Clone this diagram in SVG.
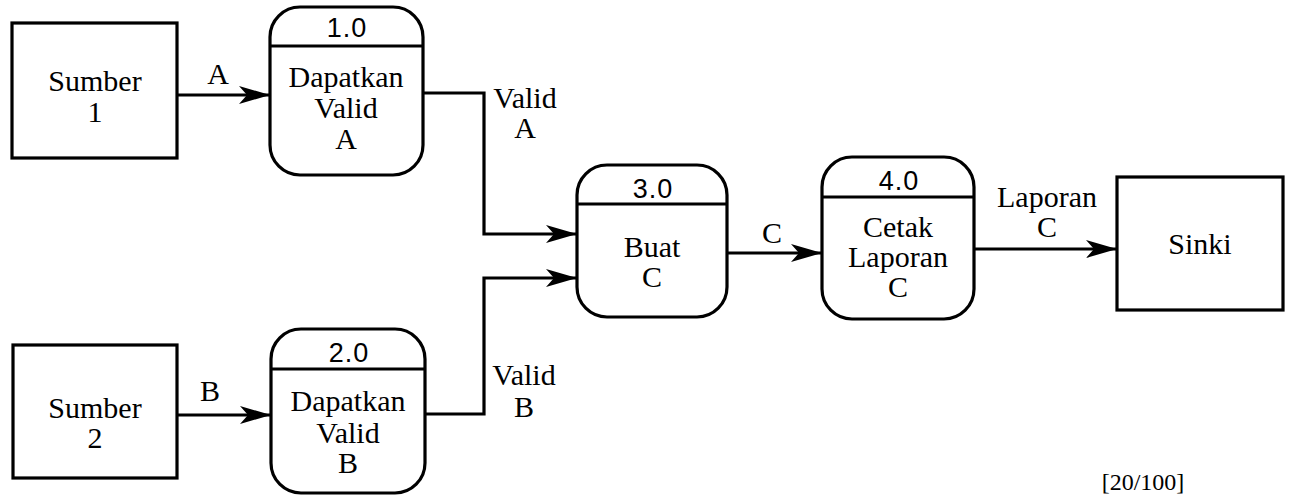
<svg xmlns="http://www.w3.org/2000/svg" width="1293" height="496" viewBox="0 0 1293 496">
<style>
.box{fill:#fff;stroke:#000;stroke-width:3.2}
.hdr{stroke:#000;stroke-width:3.2}
.t{font-family:"Liberation Serif","Times New Roman",serif;font-size:30px;fill:#000;text-anchor:middle}
.n{font-family:"Liberation Sans",Arial,sans-serif;font-size:27px;fill:#000;text-anchor:middle;letter-spacing:1px}
.flow{fill:none;stroke:#000;stroke-width:3.2;marker-end:url(#ah)}
</style>
<defs>
<marker id="ah" markerUnits="userSpaceOnUse" markerWidth="34" markerHeight="20" refX="31" refY="9" orient="auto">
<path d="M0,0 L31,9 L0,18 L8,9 z" fill="#000"/>
</marker>
</defs>
<rect width="1293" height="496" fill="#fff"/>
<g id="connectors">
<path class="flow" d="M177,95 H270"/>
<path class="flow" d="M423,93 H484 V234 H577"/>
<path class="flow" d="M177,415 H271"/>
<path class="flow" d="M425,414 H484 V278 H577"/>
<path class="flow" d="M727,253 H822"/>
<path class="flow" d="M974,249 H1117"/>
<text class="t" x="218" y="84">A</text>
<text class="t" x="525" y="108">Valid</text>
<text class="t" x="525" y="138">A</text>
<text class="t" x="210" y="401">B</text>
<text class="t" x="524" y="385">Valid</text>
<text class="t" x="524" y="417">B</text>
<text class="t" x="772" y="243">C</text>
<text class="t" x="1047" y="207">Laporan</text>
<text class="t" x="1047" y="237">C</text>
</g>
<g id="sumber1">
<rect class="box" x="12" y="23" width="165" height="135"/>
<text class="t" x="95" y="91">Sumber</text>
<text class="t" x="95" y="122">1</text>
</g>
<g id="p1">
<rect class="box" x="270" y="7" width="153" height="168" rx="30" ry="30"/>
<line class="hdr" x1="270" y1="46" x2="423" y2="46"/>
<text class="n" x="347" y="37">1.0</text>
<text class="t" x="346" y="87">Dapatkan</text>
<text class="t" x="346" y="118">Valid</text>
<text class="t" x="346" y="149">A</text>
</g>
<g id="sumber2">
<rect class="box" x="13" y="345" width="164" height="133"/>
<text class="t" x="95" y="418">Sumber</text>
<text class="t" x="95" y="448">2</text>
</g>
<g id="p2">
<rect class="box" x="271" y="329" width="154" height="164" rx="30" ry="30"/>
<line class="hdr" x1="271" y1="369" x2="425" y2="369"/>
<text class="n" x="349" y="362">2.0</text>
<text class="t" x="348" y="411">Dapatkan</text>
<text class="t" x="348" y="443">Valid</text>
<text class="t" x="348" y="473">B</text>
</g>
<g id="p3">
<rect class="box" x="577" y="165" width="150" height="152" rx="30" ry="30"/>
<line class="hdr" x1="577" y1="204" x2="727" y2="204"/>
<text class="n" x="653" y="198">3.0</text>
<text class="t" x="652" y="257">Buat</text>
<text class="t" x="652" y="287">C</text>
</g>
<g id="p4">
<rect class="box" x="822" y="157" width="152" height="162" rx="30" ry="30"/>
<line class="hdr" x1="822" y1="197" x2="974" y2="197"/>
<text class="n" x="899" y="190">4.0</text>
<text class="t" x="898" y="237">Cetak</text>
<text class="t" x="898" y="267">Laporan</text>
<text class="t" x="898" y="297">C</text>
</g>
<g id="sinki">
<rect class="box" x="1117" y="177" width="166" height="133"/>
<text class="t" x="1200" y="254">Sinki</text>
</g>
<text class="t" x="1143" y="490" style="font-size:24px">[20/100]</text>
</svg>
